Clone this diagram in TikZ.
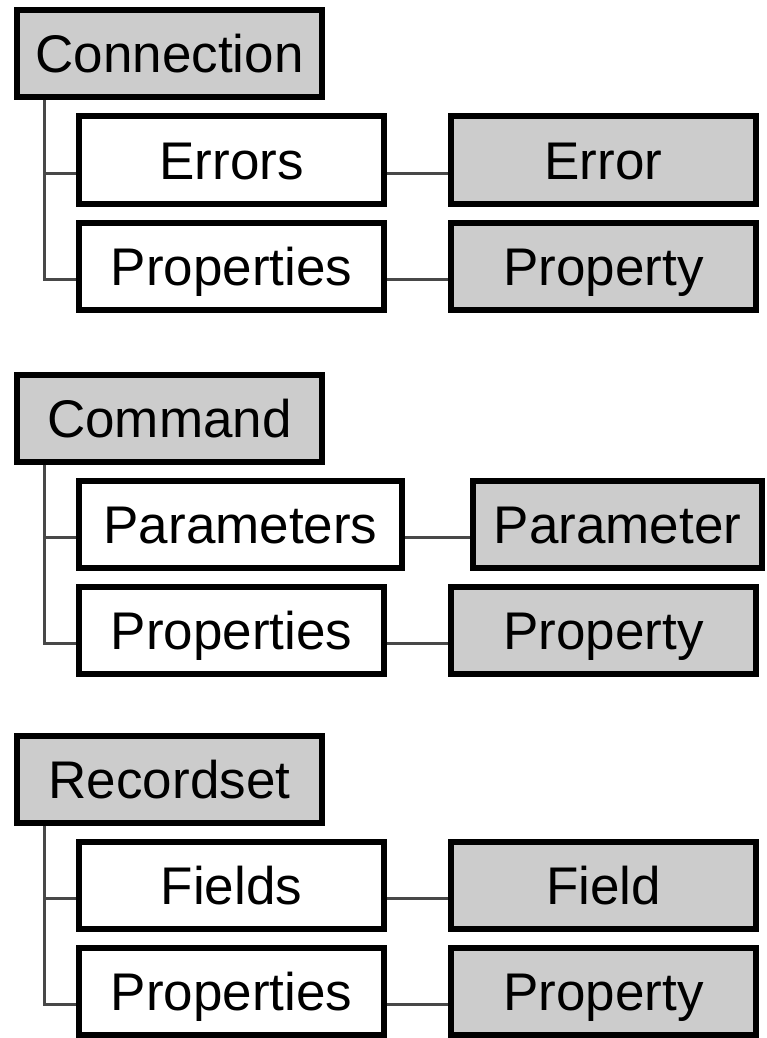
\documentclass[tikz,border=0pt]{standalone}
\usepackage{fontspec}
\setmainfont{Liberation Sans}
\usepackage{tikz}
\usetikzlibrary{positioning}
\definecolor{objgray}{RGB}{204, 204, 204}
\definecolor{linkgray}{RGB}{72, 72, 72}
\tikzstyle{objbox} = [rectangle, minimum width=305pt, minimum height=87pt, text centered, draw=black, line width=6pt, fill=objgray, inner sep=0pt, font=\fontsize{53}{60}\selectfont, text height=38pt, text depth=0pt]
\tikzstyle{collbox} = [objbox, fill=white]
\tikzstyle{link} = [draw=linkgray, line width=3pt]

\begin{document}
\begin{tikzpicture}[x=1pt, y=1pt]
\useasboundingbox (0,0) rectangle (767,-1038);

% Connection object
\node[objbox] (conn_obj) at (169.5,-54) {Connection};
\node[collbox, below=13pt of conn_obj.south west, anchor=north west, xshift=62pt] (conn_errs) {Errors};
\node[collbox, below=13pt of conn_errs] (conn_props) {Properties};
\node[objbox, right=61pt of conn_errs] (conn_err) {Error};
\node[objbox, right=61pt of conn_props] (conn_prop) {Property};

% Command object
\node[objbox] (cmd_obj) at (169.5,-418) {Command};
\node[collbox, minimum width=323pt, below=13pt of cmd_obj.south west, anchor=north west, xshift=62pt] (cmd_params) {Parameters};
\node[collbox, below=13pt of cmd_params.south west, anchor=north west] (cmd_props) {Properties};
\node[objbox, minimum width=289pt, right=65pt of cmd_params] (cmd_param) {Parameter};
\node[objbox, right=61pt of cmd_props] (cmd_prop) {Property};

% Recordset object
\node[objbox] (rs_obj) at (169.5,-779) {Recordset};
\node[collbox, below=13pt of rs_obj.south west, anchor=north west, xshift=62pt] (rs_fields) {Fields};
\node[collbox, below=13pt of rs_fields] (rs_props) {Properties};
\node[objbox, right=61pt of rs_fields] (rs_field) {Field};
\node[objbox, right=61pt of rs_props] (rs_prop) {Property};

% Tree lines from each object to its collections
\draw[link] ([xshift=30pt]conn_obj.south west) |- ([yshift=-13pt]conn_errs.west);
\draw[link] ([xshift=30pt]conn_obj.south west) |- ([yshift=-13pt]conn_props.west);
\draw[link] ([xshift=30pt]cmd_obj.south west) |- ([yshift=-13pt]cmd_params.west);
\draw[link] ([xshift=30pt]cmd_obj.south west) |- ([yshift=-13pt]cmd_props.west);
\draw[link] ([xshift=30pt]rs_obj.south west) |- ([yshift=-13pt]rs_fields.west);
\draw[link] ([xshift=30pt]rs_obj.south west) |- ([yshift=-13pt]rs_props.west);

% Collections to their members
\draw[link] ([yshift=-13pt]conn_errs.east) -- ([yshift=-13pt]conn_err.west);
\draw[link] ([yshift=-13pt]conn_props.east) -- ([yshift=-13pt]conn_prop.west);
\draw[link] ([yshift=-13pt]cmd_params.east) -- ([yshift=-13pt]cmd_param.west);
\draw[link] ([yshift=-13pt]cmd_props.east) -- ([yshift=-13pt]cmd_prop.west);
\draw[link] ([yshift=-13pt]rs_fields.east) -- ([yshift=-13pt]rs_field.west);
\draw[link] ([yshift=-13pt]rs_props.east) -- ([yshift=-13pt]rs_prop.west);

\end{tikzpicture}
\end{document}
